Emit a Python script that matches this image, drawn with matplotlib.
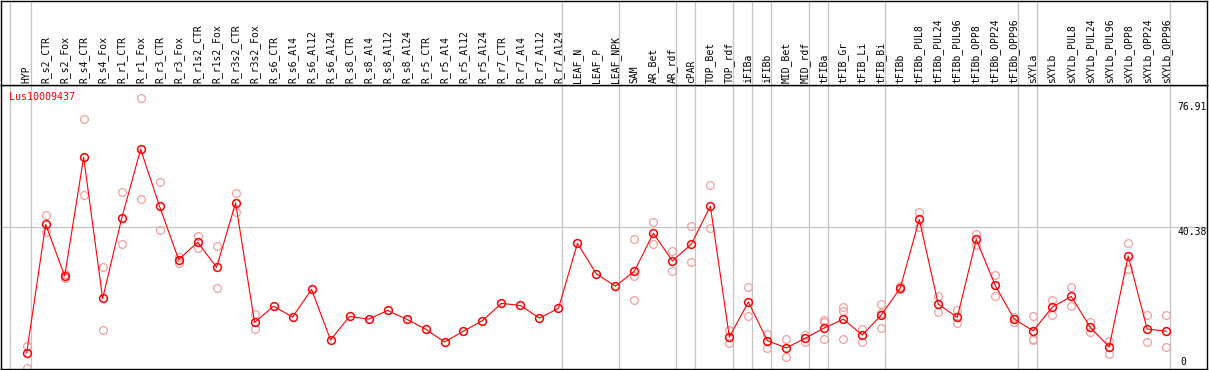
import numpy as np
import matplotlib
matplotlib.use("Agg")
import matplotlib.pyplot as plt
from matplotlib.transforms import blended_transform_factory

categories = [
    "HYP", "R_s2_CTR", "R_s2_Fox", "R_s4_CTR", "R_s4_Fox", "R_r1_CTR", "R_r1_Fox",
    "R_r3_CTR", "R_r3_Fox", "R_r1s2_CTR", "R_r1s2_Fox", "R_r3s2_CTR", "R_r3s2_Fox",
    "R_s6_CTR", "R_s6_Al4", "R_s6_Al12", "R_s6_Al24", "R_s8_CTR", "R_s8_Al4",
    "R_s8_Al12", "R_s8_Al24", "R_r5_CTR", "R_r5_Al4", "R_r5_Al12", "R_r5_Al24",
    "R_r7_CTR", "R_r7_Al4", "R_r7_Al12", "R_r7_Al24", "LEAF_N", "LEAF_P", "LEAF_NPK",
    "SAM", "AR_Bet", "AR_rdf", "cPAR", "TOP_Bet", "TOP_rdf", "iFIBa", "iFIBb",
    "MID_Bet", "MID_rdf", "tFIBa", "tFIB_Gr", "tFIB_Li", "tFIB_Bi", "tFIBb",
    "tFIBb_PUL8", "tFIBb_PUL24", "tFIBb_PUL96", "tFIBb_OPP8", "tFIBb_OPP24",
    "tFIBb_OPP96", "sXYLa", "sXYLb", "sXYLb_PUL8", "sXYLb_PUL24", "sXYLb_PUL96",
    "sXYLb_OPP8", "sXYLb_OPP24", "sXYLb_OPP96",
]

mean_values = [
    4.4, 41.0, 26.3, 60.1, 19.9, 42.7, 62.4, 46.1, 31.0, 35.9, 28.8, 47.1, 13.1,
    17.7, 14.6, 22.5, 8.1, 14.8, 14.0, 16.5, 14.0, 11.2, 7.5, 10.6, 13.6,
    18.5, 17.9, 14.3, 17.1, 35.6, 26.9, 23.4,
    27.7, 38.5, 30.6, 35.4, 46.2, 8.9, 18.9, 7.9, 5.8, 8.6, 11.5, 14.0, 9.5, 15.2,
    22.9, 42.4, 18.3, 14.5, 36.7, 23.6, 14.0, 10.7, 17.4, 20.5, 11.7, 6.1, 32.0,
    11.2, 10.6,
]

nan = np.nan
rep_a = [
    6.4, 43.6, 26.8, 70.9, 28.8, 50.1, 76.91, 53.0, 31.8, 37.7, 34.8, 49.9, 15.5,
    nan, nan, nan, nan, nan, nan, nan, nan, nan, nan, nan, nan,
    nan, nan, nan, nan, nan, nan, nan,
    36.8, 41.6, 33.3, 40.5, 52.1, 10.9, 23.2, 9.8, 8.3, 9.6, 13.8, 17.5, 11.3, 18.2,
    23.4, 44.5, 20.6, 16.6, 38.3, 26.6, 14.7, 14.8, 19.5, 23.2, 13.1, 7.9, 35.6,
    15.2, 15.1,
]
rep_b = [
    0.1, 38.9, 25.6, 49.3, 10.9, 35.4, 48.1, 39.4, 30.1, 34.4, 22.8, 44.4, 11.1,
    nan, nan, nan, nan, nan, nan, nan, nan, nan, nan, nan, nan,
    nan, nan, nan, nan, nan, nan, nan,
    26.4, 35.4, 27.6, 30.2, 39.9, 7.1, 14.8, 5.7, 3.2, 7.5, 13.1, 16.4, 7.6, 15.8,
    22.5, 40.3, 16.0, 12.8, 35.0, 20.7, 13.1, 8.5, 15.1, 17.7, 10.3, 4.2, 28.2,
    7.4, 6.1,
]
rep_c = [
    nan, nan, nan, nan, nan, nan, nan, nan, nan, nan, nan, nan, nan,
    nan, nan, nan, nan, nan, nan, nan, nan, nan, nan, nan, nan,
    nan, nan, nan, nan, nan, nan, nan,
    19.5, nan, nan, nan, nan, nan, nan, nan, nan, nan, 8.3, 8.3, nan, 11.4,
    nan, nan, nan, nan, nan, nan, nan, 8.1, nan, nan, nan, nan, nan,
    nan, nan,
]

# group ends (index of last category in each group)
group_ends = [0, 28, 31, 34, 35, 37, 38, 39, 41, 42, 45, 52, 53, 60]

y_ticks = [0, 40.38, 76.91]
gene_name = "Lus10009437"

# ---------- layout ----------
W, H = 1209, 370
fig = plt.figure(figsize=(W / 100, H / 100), dpi=100)

def px_axes(x0, y0, x1, y1):
    return fig.add_axes([x0 / W, 1 - y1 / H, (x1 - x0) / W, (y1 - y0) / H])

ax = px_axes(1, 85, 1207, 368.7)
hdr = px_axes(1, 0.5, 1207, 85)

n = len(categories)
x = np.arange(n)
xlim = (-1.353, 62.15)
for a in (ax, hdr):
    a.set_xlim(*xlim)
    a.set_xticks([])
    a.set_yticks([])
    for s in a.spines.values():
        s.set_color("black")
        s.set_linewidth(1.0)
ax.set_ylim(-0.1, 80.7)
hdr.set_ylim(0, 1)

grid_c = "#c4c4c4"
sep_positions = [-0.86] + [g + 0.21 for g in group_ends]
for a in (ax, hdr):
    for p in sep_positions:
        a.axvline(p, color=grid_c, lw=0.9, zorder=0)
ax.axhline(y_ticks[1], color=grid_c, lw=0.9, zorder=0)

# replicates
for reps in (rep_a, rep_b, rep_c):
    ax.plot(x, reps, linestyle="none", marker="o", ms=5.6, mfc="none",
            mec="#f0a0a0", mew=0.9, zorder=2, clip_on=False)

# mean line
ax.plot(x, mean_values, color="#ff0000", lw=0.8, marker="o", ms=5.6, mfc="none",
        mec="#ff0000", mew=1.1, zorder=3)

font = "DejaVu Sans Mono"
fs = 7.0

# category labels
for xi, lab in zip(x, categories):
    hdr.text(xi, 2 / 85, lab, rotation=90, ha="center", va="bottom",
             fontsize=fs, family=font, color="black")

# gene name
ax.text(8.3 / 1206, 1 - 12 / 283.7, gene_name, transform=ax.transAxes,
        ha="left", va="center", fontsize=7.2, family=font, color="#ff0000")

# y tick labels on the right, inside
tr = blended_transform_factory(ax.transAxes, ax.transData)
offsets = {0: 6.6, 1: -5.8, 2: -9.0}
for k, v in enumerate(y_ticks):
    lab = "0" if v == 0 else f"{v:.2f}"
    xa = (1180 - 1) / 1206 if v == 0 else (1177.5 - 1) / 1206
    ax.annotate(lab, xy=(xa, v), xycoords=tr, xytext=(0, offsets[k]),
                textcoords="offset pixels", ha="left", va="center",
                fontsize=fs, family=font, color="black")

fig.savefig("out.png", dpi=100)
